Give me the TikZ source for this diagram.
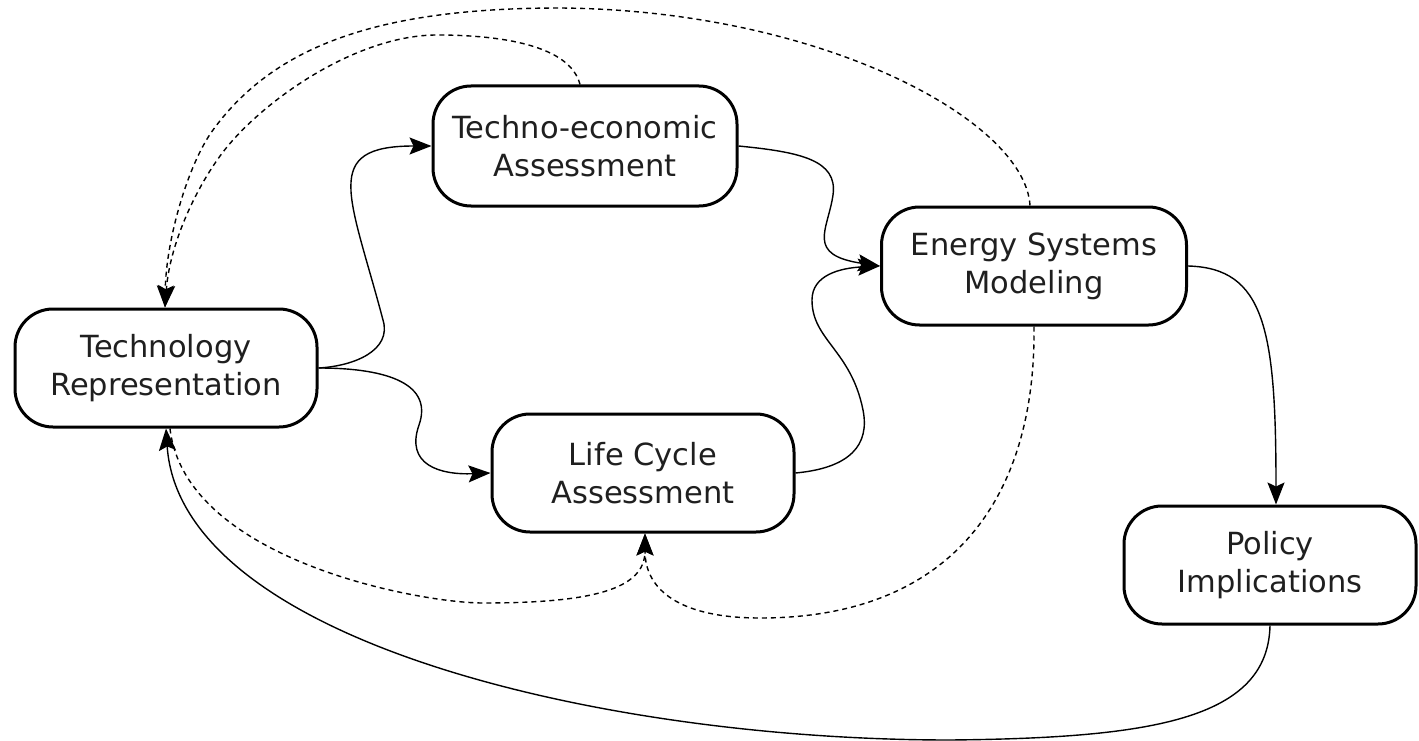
\documentclass[tikz,border=0pt]{standalone}
\usepackage{fontspec}
\setmainfont{DejaVu Sans}
\usetikzlibrary{arrows.meta}
\begin{document}
\begin{tikzpicture}[x=1pt,y=-1pt,
  box/.style={draw=black, line width=3pt, rounded corners=38pt, align=center,
    font=\fontsize{30.5}{38}\selectfont, text=black!88, inner sep=0pt,
    minimum height=118pt},
  link/.style={line width=1.4pt, -{Stealth[length=22pt,width=17pt,inset=4pt]}},
  dlink/.style={link, dash pattern=on 5pt off 4pt}]
\useasboundingbox (0,0) rectangle (1419,741);
\node[box, minimum width=302pt] (tr)  at (166,368)  {Technology\\Representation};
\node[box, minimum width=304pt, minimum height=120pt] (te)  at (585,146)  {Techno-economic\\Assessment};
\node[box, minimum width=302pt] (lca) at (643,473)  {Life Cycle\\Assessment};
\node[box, minimum width=305pt] (esm) at (1034,266) {Energy Systems\\Modeling};
\node[box, minimum width=292pt] (pi)  at (1270,565) {Policy\\Implications};

% solid connectors
\draw[link] (tr.east) .. controls (355,366) and (392,350) .. (383,320)
  .. controls (350,195) and (320,146) .. (te.west);
\draw[link] (tr.east) .. controls (390,368) and (433,385) .. (419,425)
  .. controls (405,465) and (440,475) .. (lca.west);
\draw[link] (te.east) .. controls (800,152) and (838,160) .. (833,195)
  .. controls (828,230) and (805,255) .. (esm.west);
\draw[link] (lca.east) .. controls (850,468) and (870,445) .. (863,410)
  .. controls (851,350) and (812,340) .. (812,300)
  .. controls (812,275) and (840,268) .. (esm.west);
\draw[link] (esm.east) .. controls (1265,268) and (1276,330) .. ([xshift=6pt]pi.north);
\draw[link] (pi.south) .. controls (1268,720) and (1150,738) .. (950,740)
  .. controls (600,740) and (180,640) .. (tr.south);

% dashed connectors
\draw[dlink] ([xshift=-5pt]te.north) .. controls (570,45) and (500,35) .. (437,35)
  .. controls (360,35) and (270,95) .. (227,147)
  .. controls (200,180) and (170,240) .. ([xshift=-1pt]tr.north);
\draw[dlink] ([xshift=-4pt]esm.north) .. controls (1025,120) and (820,10) .. (560,8)
  .. controls (380,8) and (275,45) .. (213,130)
  .. controls (188,164) and (166,240) .. ([xshift=-1pt]tr.north);
\draw[dlink] ([xshift=4pt]tr.south) .. controls (185,560) and (420,603) .. (483,603)
  .. controls (590,603) and (645,590) .. ([xshift=2pt]lca.south);
\draw[dlink] (esm.south) .. controls (1036,500) and (950,618) .. (760,618)
  .. controls (680,618) and (645,590) .. ([xshift=2pt]lca.south);
\end{tikzpicture}
\end{document}
